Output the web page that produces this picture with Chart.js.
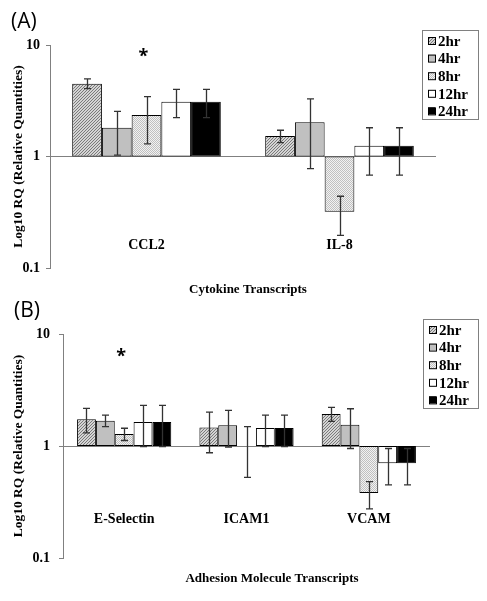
<!DOCTYPE html>
<html>
<head>
<meta charset="utf-8">
<script src="https://cdn.jsdelivr.net/npm/chart.js@4/dist/chart.umd.min.js"></script>
<style>
  html, body { margin: 0; padding: 0; background: #fff; }
  #wrap { position: relative; width: 487px; height: 601px; }
  canvas { position: absolute; left: 0; }
  #panelA { top: 0; }
  #panelB { top: 300px; }
</style>
</head>
<body>
<div id="wrap">
  <canvas id="panelA" width="487" height="300"></canvas>
  <canvas id="panelB" width="487" height="301"></canvas>
</div>
<script>
// time points (one dataset each)
const timeLabels = ['2hr', '4hr', '8hr', '12hr', '24hr'];
const yTicks = [0.1, 1, 10];

// (A) cytokines: rows = time points, cols = categories
const cytokineCats = ['CCL2', 'IL-8'];
const cytokineRQ = [[4.5, 1.53], [1.81, 2.03], [2.36, 0.32], [3.1, 1.25], [3.1, 1.25]];
const cytokineHi = [[4.96, 1.72], [2.54, 3.29], [3.44, 0.44], [4.0, 1.81], [4.0, 1.81]];
const cytokineLo = [[4.06, 1.33], [1.03, 0.78], [1.30, 0.196], [2.23, 0.68], [2.23, 0.68]];

// (B) adhesion molecules
const adhesionCats = ['E-Selectin', 'ICAM1', 'VCAM'];
const adhesionRQ = [[1.73, 1.46, 1.93], [1.68, 1.53, 1.55], [1.28, 1.0, 0.38], [1.64, 1.45, 0.70], [1.64, 1.45, 0.70]];
const adhesionHi = [[2.17, 2.01, 2.21], [1.89, 2.08, 2.15], [1.44, 1.49, 0.48], [2.31, 1.89, 0.95], [2.31, 1.89, 0.95]];
const adhesionLo = [[1.31, 0.87, 1.66], [1.49, 0.98, 0.95], [1.12, 0.525, 0.275], [0.99, 0.99, 0.45], [0.99, 0.99, 0.45]];

const SERIF = "'Liberation Serif', 'DejaVu Serif', serif";
const SANS = "'Open Sans', 'Liberation Sans', sans-serif";

function makeTile(size, draw) {
    const c = document.createElement('canvas');
    c.width = size;
    c.height = size;
    draw(c.getContext('2d'));
    return c;
}

// fill styles for each time point
function timeFills(ctx) {
    const hatch = makeTile(3, g => {
        g.fillStyle = '#d4d4d4';
        g.fillRect(0, 0, 3, 3);
        g.fillStyle = '#7a7a7a';
        for (let i = 0; i < 3; i++) g.fillRect(i, 2 - i, 1, 1);
    });
    const dots = makeTile(2, g => {
        g.fillStyle = '#f2f2f2';
        g.fillRect(0, 0, 2, 2);
        g.fillStyle = '#c0c0c0';
        g.fillRect(0, 0, 1, 1);
        g.fillRect(1, 1, 1, 1);
    });
    return [
        ctx.createPattern(hatch, 'repeat'),
        '#c0c0c0',
        ctx.createPattern(dots, 'repeat'),
        '#ffffff',
        '#000000'
    ];
}

const decorPlugin = {
    id: 'decor',
    afterDatasetsDraw(chart, args, opts) {
        const ctx = chart.ctx;
        const y = chart.scales.y;
        ctx.save();
        ctx.strokeStyle = '#333';
        ctx.lineWidth = 1.3;
        chart.data.datasets.forEach((ds, d) => {
            const meta = chart.getDatasetMeta(d);
            meta.data.forEach((bar, i) => {
                const x = Math.round(bar.x) + 0.5;
                const yh = y.getPixelForValue(opts.hi[d][i]);
                const yl = y.getPixelForValue(opts.lo[d][i]);
                ctx.beginPath();
                ctx.moveTo(x, yh); ctx.lineTo(x, yl);
                ctx.moveTo(x - 3.5, yh); ctx.lineTo(x + 3.5, yh);
                ctx.moveTo(x - 3.5, yl); ctx.lineTo(x + 3.5, yl);
                ctx.stroke();
            });
        });
        ctx.restore();
    },
    afterDraw(chart, args, opts) {
        const ctx = chart.ctx;
        const xs = chart.scales.x;
        const ys = chart.scales.y;
        ctx.save();

        // category labels inside the plot
        ctx.fillStyle = '#000';
        ctx.font = 'bold 14px ' + SERIF;
        ctx.textAlign = 'center';
        ctx.textBaseline = 'middle';
        chart.data.labels.forEach((lab, i) => {
            ctx.fillText(lab, xs.getPixelForValue(i), opts.catY);
        });

        // x axis title
        ctx.font = 'bold 13px ' + SERIF;
        ctx.fillText(opts.xTitle, opts.xTitleX, opts.xTitleY);

        // star
        const starBar = chart.getDatasetMeta(opts.star.dataset).data[opts.star.index];
        ctx.font = 'bold 18px ' + SANS;
        ctx.textBaseline = 'alphabetic';
        ctx.fillText('*', starBar.x - 3, ys.getPixelForValue(opts.star.value) + 9);

        // panel label
        ctx.font = '21px ' + SANS;
        ctx.textAlign = 'left';
        ctx.textBaseline = 'middle';
        ctx.fillText(opts.panel, opts.panelX, opts.panelY);

        // legend box
        const L = opts.legend;
        ctx.strokeStyle = '#808080';
        ctx.lineWidth = 1;
        ctx.strokeRect(L.x + 0.5, L.y + 0.5, L.w, L.h);
        ctx.font = 'bold 15px ' + SERIF;
        chart.data.datasets.forEach((ds, d) => {
            const cy = L.y + 11 + d * 17.6;
            ctx.fillStyle = ds.backgroundColor;
            ctx.fillRect(L.x + 6, cy - 4, 7, 7);
            ctx.strokeStyle = '#000';
            ctx.strokeRect(L.x + 6.5, cy - 3.5, 7, 7);
            ctx.fillStyle = '#000';
            ctx.fillText(ds.label, L.x + 16, cy + 1);
        });
        ctx.restore();
    }
};

function buildPanel(canvasId, cats, rq, hi, lo, cfg) {
    const canvas = document.getElementById(canvasId);
    const ctx = canvas.getContext('2d');
    const fills = timeFills(ctx);

    return new Chart(ctx, {
        type: 'bar',
        data: {
            labels: cats,
            datasets: timeLabels.map((t, d) => ({
                label: t,
                data: rq[d].map(v => [1, v]),
                backgroundColor: fills[d],
                borderColor: '#000',
                borderWidth: 1,
                borderSkipped: false,
                barPercentage: 1,
                categoryPercentage: 0.77
            }))
        },
        options: {
            responsive: false,
            animation: false,
            devicePixelRatio: 1,
            layout: { padding: cfg.padding },
            plugins: {
                legend: { display: false },
                tooltip: { enabled: false },
                decor: Object.assign({ hi: hi, lo: lo }, cfg.decor)
            },
            scales: {
                x: { display: false },
                y: {
                    type: 'logarithmic',
                    min: 0.1,
                    max: 10,
                    afterBuildTicks: scale => {
                        scale.ticks = yTicks.map(v => ({ value: v }));
                    },
                    afterFit: scale => {
                        scale.width = cfg.axisWidth;
                    },
                    ticks: {
                        color: '#000',
                        font: { family: SERIF, size: 14, weight: 'bold' },
                        padding: cfg.tickPad,
                        callback: v => (v === 0.1 ? '0.1' : String(v))
                    },
                    grid: {
                        color: c => (c.tick && c.tick.value === 1 ? '#808080' : 'rgba(0,0,0,0)'),
                        tickColor: '#808080',
                        tickLength: 4
                    },
                    border: { color: '#808080' },
                    title: {
                        display: true,
                        text: 'Log10 RQ (Relative Quantities)',
                        color: '#000',
                        font: { family: SERIF, size: 13.5, weight: 'bold' },
                        padding: { top: 10, bottom: 0 }
                    }
                }
            }
        },
        plugins: [decorPlugin]
    });
}

buildPanel('panelA', cytokineCats, cytokineRQ, cytokineHi, cytokineLo, {
    padding: { top: 45, right: 51, bottom: 32, left: 0 },
    axisWidth: 50,
    tickPad: 6,
    decor: {
        catY: 245,
        xTitle: 'Cytokine Transcripts',
        xTitleX: 248,
        xTitleY: 290,
        panel: '(A)',
        panelX: 11,
        panelY: 22,
        star: { dataset: 2, index: 0, value: 8.4 },
        legend: { x: 422, y: 30, w: 56, h: 89 }
    }
});

buildPanel('panelB', adhesionCats, adhesionRQ, adhesionHi, adhesionLo, {
    padding: { top: 34, right: 57, bottom: 43, left: 0 },
    axisWidth: 63,
    tickPad: 9,
    decor: {
        catY: 219,
        xTitle: 'Adhesion Molecule Transcripts',
        xTitleX: 272,
        xTitleY: 279,
        panel: '(B)',
        panelX: 14,
        panelY: 11,
        star: { dataset: 2, index: 0, value: 6.7 },
        legend: { x: 423, y: 19, w: 55, h: 89 }
    }
});
</script>
</body>
</html>
